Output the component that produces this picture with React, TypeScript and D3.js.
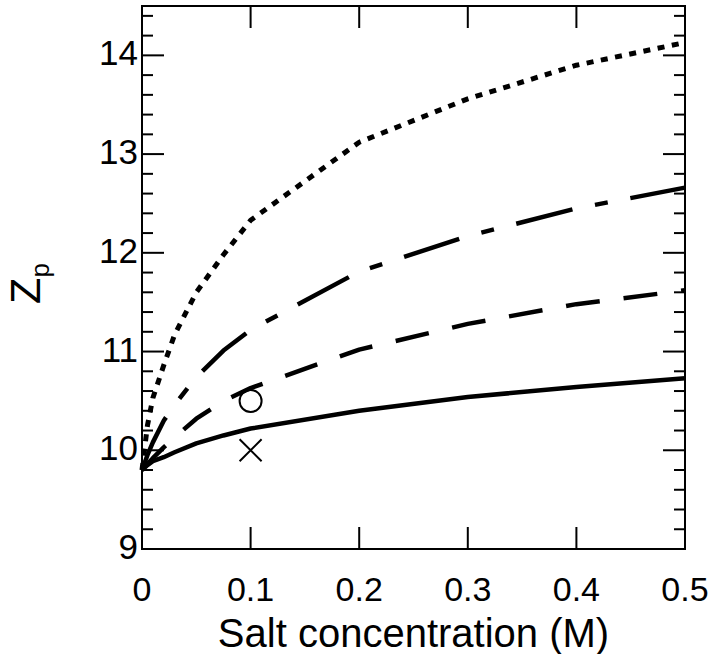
import React, { useRef, useEffect } from 'react';
import * as d3 from 'd3';

// salt concentration (M) at which each curve was read
const saltConc = [0, 0.005, 0.01, 0.02, 0.03, 0.05, 0.075, 0.1, 0.2, 0.3, 0.4, 0.5];

// Zp values for the four curves
const solidZp = [9.8, 9.85, 9.89, 9.93, 9.98, 10.07, 10.15, 10.22, 10.4, 10.54, 10.64, 10.73];
const dashedZp = [9.8, 9.86, 9.92, 10.03, 10.13, 10.32, 10.5, 10.63, 11.02, 11.28, 11.48, 11.62];
const dashDotZp = [9.8, 9.95, 10.08, 10.3, 10.46, 10.74, 11.01, 11.22, 11.81, 12.17, 12.45, 12.66];
const dottedZp = [9.8, 10.25, 10.53, 10.86, 11.17, 11.6, 11.98, 12.33, 13.12, 13.56, 13.9, 14.13];

// single points at 0.1 M
const circlePoint = [0.1, 10.5];
const crossPoint = [0.1, 10.0];

const xTicks = [0, 0.1, 0.2, 0.3, 0.4, 0.5];
const xTickLabels = ['0', '0.1', '0.2', '0.3', '0.4', '0.5'];
const yTicks = [9, 10, 11, 12, 13, 14];
const yTickLabels = ['9', '10', '11', '12', '13', '14'];

const FONT = '"Liberation Sans", Arial, Helvetica, sans-serif';

const App = () => {
	const svgRef = useRef(null);

	useEffect(() => {
		const width = 720;
		const height = 654;
		const left = 142, right = 685, top = 6, bottom = 549;

		const svg = d3.select(svgRef.current);
		svg.selectAll('*').remove();

		const x = d3.scaleLinear().domain([0, 0.5]).range([left, right]);
		const y = d3.scaleLinear().domain([9, 14.5]).range([bottom, top]);

		// curves
		const line = d3.line()
			.x(d => x(d[0]))
			.y(d => y(d[1]));

		const series = [
			{ values: solidZp, dash: null, w: 4.5 },
			{ values: dashedZp, dash: '34,24', w: 4.5 },
			{ values: dashDotZp, dash: '58,23,13,23', w: 4.5 },
			{ values: dottedZp, dash: '7,7.5', w: 5 },
		];

		svg.selectAll('.curve')
			.data(series)
			.join('path')
				.attr('class', 'curve')
				.attr('d', s => line(saltConc.map((c, i) => [c, s.values[i]])))
				.attr('fill', 'none')
				.attr('stroke', '#000')
				.attr('stroke-width', s => s.w)
				.attr('stroke-dasharray', s => s.dash)
				.attr('stroke-linejoin', 'round');

		// markers
		svg.append('circle')
			.attr('cx', x(circlePoint[0]))
			.attr('cy', y(circlePoint[1]))
			.attr('r', 11)
			.attr('fill', 'none')
			.attr('stroke', '#000')
			.attr('stroke-width', 2);

		const cx = x(crossPoint[0]);
		const cy = y(crossPoint[1]);
		const s = 11;
		svg.append('path')
			.attr('d', `M${cx - s},${cy - s}L${cx + s},${cy + s}M${cx - s},${cy + s}L${cx + s},${cy - s}`)
			.attr('stroke', '#000')
			.attr('stroke-width', 2);

		// frame
		svg.append('rect')
			.attr('x', left)
			.attr('y', top)
			.attr('width', right - left)
			.attr('height', bottom - top)
			.attr('fill', 'none')
			.attr('stroke', '#000')
			.attr('stroke-width', 2);

		// y ticks (major every 1, minor every 0.2), both sides, inward
		const yMinor = d3.range(9, 14.5, 0.2).map(v => +v.toFixed(1));
		const tickG = svg.append('g').attr('stroke', '#000').attr('stroke-width', 2);
		yMinor.forEach(v => {
			const major = Math.abs(v - Math.round(v)) < 1e-6;
			const len = major ? 22 : 11;
			if (v === 9) return;
			tickG.append('line')
				.attr('x1', left).attr('x2', left + len)
				.attr('y1', y(v)).attr('y2', y(v));
			tickG.append('line')
				.attr('x1', right).attr('x2', right - len)
				.attr('y1', y(v)).attr('y2', y(v));
		});

		// x ticks, top and bottom, inward
		xTicks.slice(1, -1).forEach(v => {
			tickG.append('line')
				.attr('x1', x(v)).attr('x2', x(v))
				.attr('y1', bottom).attr('y2', bottom - 22);
			tickG.append('line')
				.attr('x1', x(v)).attr('x2', x(v))
				.attr('y1', top).attr('y2', top + 22);
		});

		// tick labels
		svg.selectAll('.xlab')
			.data(xTicks)
			.join('text')
				.attr('class', 'xlab')
				.attr('x', d => x(d))
				.attr('y', bottom + 52)
				.attr('text-anchor', 'middle')
				.attr('font-family', FONT)
				.attr('font-size', 34)
				.text((d, i) => xTickLabels[i]);

		svg.selectAll('.ylab')
			.data(yTicks)
			.join('text')
				.attr('class', 'ylab')
				.attr('x', left - 4)
				.attr('y', d => y(d) + 10)
				.attr('text-anchor', 'end')
				.attr('font-family', FONT)
				.attr('font-size', 35)
				.text((d, i) => yTickLabels[i]);

		// axis titles
		svg.append('text')
			.attr('x', (left + right) / 2)
			.attr('y', bottom + 98)
			.attr('text-anchor', 'middle')
			.attr('font-family', FONT)
			.attr('font-size', 40)
			.text('Salt concentration (M)');

		const yTitle = svg.append('text')
			.attr('transform', `translate(40, ${(top + bottom) / 2 + 6}) rotate(-90)`)
			.attr('text-anchor', 'middle')
			.attr('font-family', FONT)
			.attr('font-size', 43);
		yTitle.append('tspan').text('Z');
		yTitle.append('tspan')
			.attr('font-size', 26)
			.attr('dy', 9)
			.text('p');

		svg.attr('width', width).attr('height', height);
	}, []);

	return (
		<svg ref={svgRef} width={720} height={654}
			style={{ position: 'absolute', left: 0, top: 0, background: '#fff' }}></svg>
	);
};

export default App;
